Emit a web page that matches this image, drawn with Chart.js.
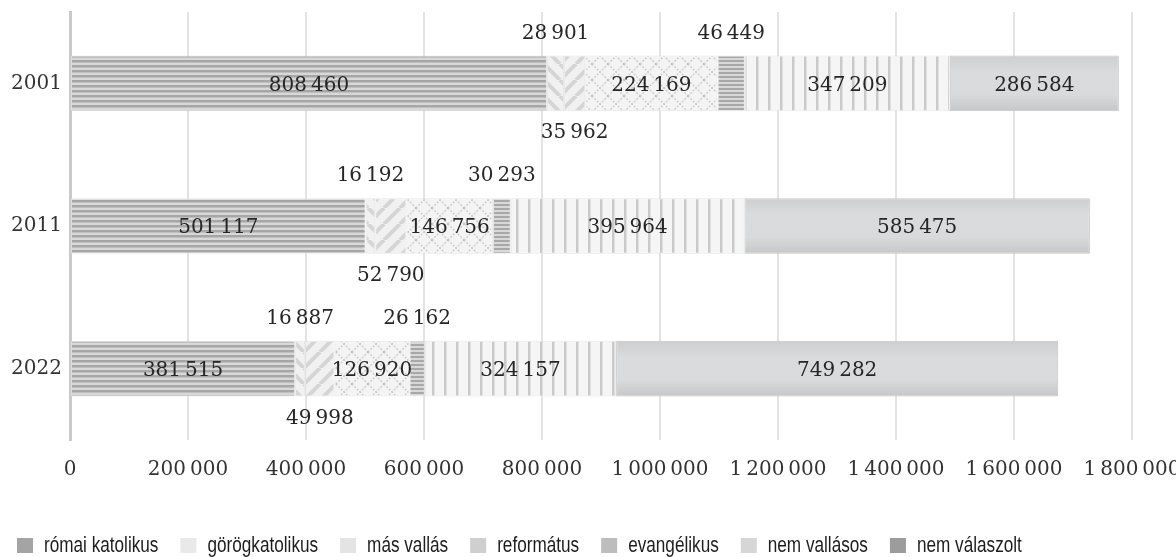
<!DOCTYPE html>
<html>
<head>
<meta charset="utf-8">
<script src="https://cdn.jsdelivr.net/npm/chart.js@4/dist/chart.umd.min.js"></script>
<style>
  body { margin: 0; background: #fff; }
  #wrap { width: 1176px; height: 557px; }
</style>
</head>
<body>
<div id="wrap"><canvas id="vallasChart"></canvas></div>
<script>
// Adatok
const evek = ['2001', '2011', '2022'];
const sorozatok = ['római katolikus', 'görögkatolikus', 'más vallás', 'református', 'evangélikus', 'nem vallásos', 'nem válaszolt'];
const romaiKatolikus = [808460, 501117, 381515];
const gorogkatolikus = [28901, 16192, 16887];
const masVallas = [35962, 52790, 49998];
const reformatus = [224169, 146756, 126920];
const evangelikus = [46449, 30293, 26162];
const nemVallasos = [347209, 395964, 324157];
const nemValaszolt = [286584, 585475, 749282];
const xTicks = [0, 200000, 400000, 600000, 800000, 1000000, 1200000, 1400000, 1600000, 1800000];

const ertekek = [romaiKatolikus, gorogkatolikus, masVallas, reformatus, evangelikus, nemVallasos, nemValaszolt];

// címke helye sorozatonként
const cimkeHely = ['in', 'above', 'below', 'in', 'above', 'in', 'in'];
const legendSzinek = ['#a4a4a4', '#e9e9e9', '#e4e4e4', '#cfcfcf', '#bdbdbd', '#d6d6d6', '#9c9c9c'];

const szamFormat = v => String(v).replace(/\B(?=(\d{3})+(?!\d))/g, '\u2009');

// Minták
function minta(w, h, rajz) {
    const c = document.createElement('canvas');
    c.width = w; c.height = h;
    const g = c.getContext('2d');
    rajz(g, w, h);
    return c;
}

function vizszintesCsik(periodus, vastag, alap, vonal) {
    return minta(8, periodus, (g, w, h) => {
        g.fillStyle = alap; g.fillRect(0, 0, w, h);
        g.fillStyle = vonal; g.fillRect(0, 0, w, vastag);
    });
}

function ferdeCsik(irany) {
    return minta(16, 16, (g, w, h) => {
        g.fillStyle = '#f1f1f1'; g.fillRect(0, 0, w, h);
        g.strokeStyle = '#d5d5d5'; g.lineWidth = 4;
        for (let k = -1; k <= 1; k++) {
            g.beginPath();
            if (irany > 0) { g.moveTo(k * w, h); g.lineTo(k * w + w, 0); }
            else { g.moveTo(k * w, 0); g.lineTo(k * w + w, h); }
            g.stroke();
        }
    });
}

function racs() {
    return minta(16, 16, (g, w, h) => {
        g.fillStyle = '#f4f4f4'; g.fillRect(0, 0, w, h);
        g.strokeStyle = '#c9c9c9'; g.lineWidth = 1.3;
        g.setLineDash([2, 1.5]);
        for (let k = -1; k <= 1; k++) {
            g.beginPath(); g.moveTo(k * w, 0); g.lineTo(k * w + w, h); g.stroke();
            g.beginPath(); g.moveTo(k * w, h); g.lineTo(k * w + w, 0); g.stroke();
        }
    });
}

function fuggolegesCsik() {
    return minta(12, 8, (g, w, h) => {
        g.fillStyle = '#f5f5f5'; g.fillRect(0, 0, w, h);
        g.fillStyle = '#cacaca'; g.fillRect(0, 0, 2.5, h);
    });
}

const ctx = document.getElementById('vallasChart').getContext('2d');

// nem válaszolt: enyhén árnyalt szürke sáv
function arnyalt(context) {
    const chart = context.chart;
    const y = chart.scales.y;
    if (!y || context.dataIndex === undefined) return '#d8d9db';
    const kozep = y.getPixelForValue(context.dataIndex);
    const lepes = y.getPixelForValue(1) - y.getPixelForValue(0);
    const h = Math.abs(lepes) * 0.39 / 2;
    if (!isFinite(kozep) || !isFinite(h) || h === 0) return '#d8d9db';
    const gr = chart.ctx.createLinearGradient(0, kozep - h, 0, kozep + h);
    gr.addColorStop(0, '#cdcecf');
    gr.addColorStop(0.3, '#dadbdd');
    gr.addColorStop(0.7, '#d9dadc');
    gr.addColorStop(1, '#c6c7c9');
    return gr;
}

const mintak = [
    ctx.createPattern(vizszintesCsik(5, 2.5, '#d8d8d8', '#a6a6a6'), 'repeat'),
    ctx.createPattern(ferdeCsik(-1), 'repeat'),
    ctx.createPattern(ferdeCsik(1), 'repeat'),
    ctx.createPattern(racs(), 'repeat'),
    ctx.createPattern(vizszintesCsik(4, 2, '#d8d8d8', '#a8a8a8'), 'repeat'),
    ctx.createPattern(fuggolegesCsik(), 'repeat'),
    arnyalt
];

const datasets = sorozatok.map((nev, i) => ({
    label: nev,
    data: ertekek[i],
    backgroundColor: mintak[i],
    borderColor: i === 6 ? '#c4c5c7' : 'rgba(225,225,225,0.8)',
    borderWidth: 1,
    borderSkipped: false,
    barPercentage: 0.39,
    categoryPercentage: 1
}));

// Értékcímkék kirajzolása
const ertekCimkek = {
    id: 'ertekCimkek',
    afterDatasetsDraw(chart) {
        const c = chart.ctx;
        c.save();
        c.font = '20px "DejaVu Serif"';
        c.fillStyle = '#262626';
        c.textAlign = 'center';
        c.textBaseline = 'middle';
        chart.data.datasets.forEach((ds, i) => {
            const meta = chart.getDatasetMeta(i);
            meta.data.forEach((bar, j) => {
                const x = (bar.x + bar.base) / 2;
                let y = bar.y + 2;
                if (cimkeHely[i] === 'above') y = bar.y - bar.height / 2 - 22;
                if (cimkeHely[i] === 'below') y = bar.y + bar.height / 2 + 22;
                c.fillText(szamFormat(ds.data[j]), x, y);
            });
        });
        c.restore();
    }
};

// Jelmagyarázat: keskenyített felirat, balra igazítva
const jelmagyarazat = {
    id: 'jelmagyarazat',
    afterDraw(chart) {
        const c = chart.ctx;
        const sk = 0.78;
        const yk = chart.height - 11;
        let x = 17;
        c.save();
        c.font = '22px "Liberation Sans"';
        c.textBaseline = 'middle';
        chart.data.datasets.forEach((ds, i) => {
            c.fillStyle = legendSzinek[i];
            c.fillRect(x, yk - 8, 16, 15);
            const tx = x + 27;
            const w = c.measureText(ds.label).width * sk;
            c.save();
            c.translate(tx, yk);
            c.scale(sk, 1);
            c.fillStyle = '#1e1e1e';
            c.fillText(ds.label, 0, 0);
            c.restore();
            x = tx + w + 22;
        });
        c.restore();
    }
};

new Chart(ctx, {
    type: 'bar',
    data: { labels: evek, datasets: datasets },
    plugins: [ertekCimkek, jelmagyarazat],
    options: {
        indexAxis: 'y',
        responsive: true,
        maintainAspectRatio: false,
        animation: false,
        layout: { padding: { top: 12, left: 0, right: 0, bottom: 53 } },
        scales: {
            x: {
                stacked: true,
                min: 0,
                max: 1800000,
                afterBuildTicks: s => { s.ticks = xTicks.map(v => ({ value: v })); },
                afterFit: s => { s.paddingRight = 44; s.height = 64; },
                grid: { color: '#e3e3e3', lineWidth: 2, drawTicks: false },
                border: { display: false },
                ticks: {
                    padding: 18,
                    color: '#333',
                    font: { family: 'DejaVu Serif', size: 20 },
                    maxRotation: 0,
                    callback: v => szamFormat(v)
                }
            },
            y: {
                stacked: true,
                afterFit: s => { s.width = 70; s.paddingTop = 0; s.paddingBottom = 0; },
                grid: { display: false, drawTicks: false },
                border: { display: true, color: '#cacaca', width: 3 },
                ticks: {
                    padding: 8,
                    color: '#333',
                    font: { family: 'DejaVu Serif', size: 20 }
                }
            }
        },
        plugins: {
            tooltip: { enabled: false },
            legend: { display: false }
        }
    }
});
</script>
</body>
</html>
